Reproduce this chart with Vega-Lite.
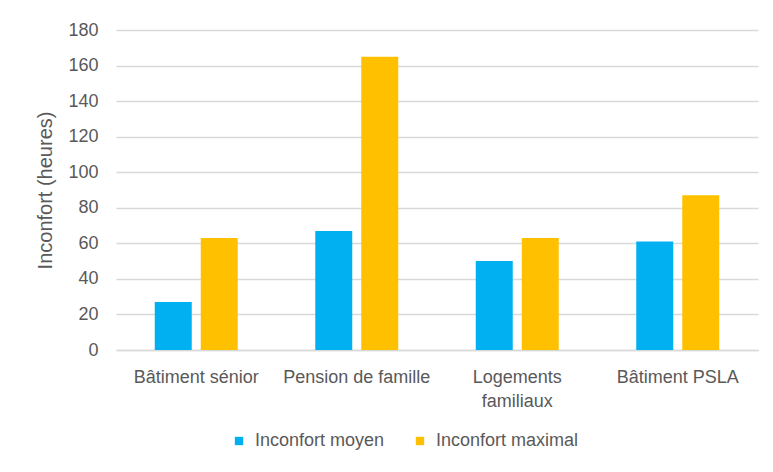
{
  "$schema": "https://vega.github.io/schema/vega-lite/v6.json",
  "autosize": {"type": "none"},
  "width": 642,
  "height": 320,
  "padding": {"left": 116, "top": 30, "right": 15, "bottom": 122},
  "background": "white",
  "config": {
    "view": {"stroke": null},
    "font": "Liberation Sans",
    "axis": {"labelFont": "Liberation Sans", "titleFont": "Liberation Sans", "labelColor": "#595959", "titleColor": "#595959"},
    "legend": {"labelFont": "Liberation Sans", "labelColor": "#595959"}
  },
  "data": {
    "values": [
      {"batiment": "Bâtiment sénior", "serie": "Inconfort moyen", "heures": 27},
      {"batiment": "Bâtiment sénior", "serie": "Inconfort maximal", "heures": 63},
      {"batiment": "Pension de famille", "serie": "Inconfort moyen", "heures": 67},
      {"batiment": "Pension de famille", "serie": "Inconfort maximal", "heures": 165},
      {"batiment": "Logements familiaux", "serie": "Inconfort moyen", "heures": 50},
      {"batiment": "Logements familiaux", "serie": "Inconfort maximal", "heures": 63},
      {"batiment": "Bâtiment PSLA", "serie": "Inconfort moyen", "heures": 61},
      {"batiment": "Bâtiment PSLA", "serie": "Inconfort maximal", "heures": 87}
    ]
  },
  "mark": {"type": "bar"},
  "encoding": {
    "x": {
      "field": "batiment",
      "type": "nominal",
      "sort": null,
      "scale": {"paddingInner": 0.483, "paddingOuter": 0.2415},
      "axis": {
        "title": null,
        "labelAngle": 0,
        "labelFontSize": 18,
        "labelPadding": 18,
        "labelLineHeight": 24,
        "labelExpr": "datum.value == 'Logements familiaux' ? ['Logements', 'familiaux'] : datum.value",
        "ticks": false,
        "domainColor": "#d9d9d9",
        "domainWidth": 1.5
      }
    },
    "xOffset": {
      "field": "serie",
      "type": "nominal",
      "sort": ["Inconfort moyen", "Inconfort maximal"],
      "scale": {"paddingInner": 0.196, "paddingOuter": 0}
    },
    "y": {
      "field": "heures",
      "type": "quantitative",
      "scale": {"domain": [0, 180]},
      "axis": {
        "title": "Inconfort (heures)",
        "titleFontSize": 20,
        "titleFontWeight": "normal",
        "titlePadding": 12,
        "values": [0, 20, 40, 60, 80, 100, 120, 140, 160, 180],
        "labelFontSize": 18,
        "labelPadding": 18,
        "ticks": false,
        "domain": false,
        "grid": true,
        "gridColor": "#d9d9d9",
        "gridWidth": 1.5
      }
    },
    "color": {
      "field": "serie",
      "type": "nominal",
      "sort": ["Inconfort moyen", "Inconfort maximal"],
      "scale": {"domain": ["Inconfort moyen", "Inconfort maximal"], "range": ["#00B0F0", "#FFC000"]},
      "legend": {
        "title": null,
        "orient": "none",
        "direction": "horizontal",
        "legendX": 114,
        "legendY": 402,
        "symbolType": "square",
        "symbolSize": 70,
        "symbolStrokeWidth": 0,
        "labelFontSize": 18,
        "labelOffset": 7,
        "columnPadding": 26
      }
    }
  }
}
